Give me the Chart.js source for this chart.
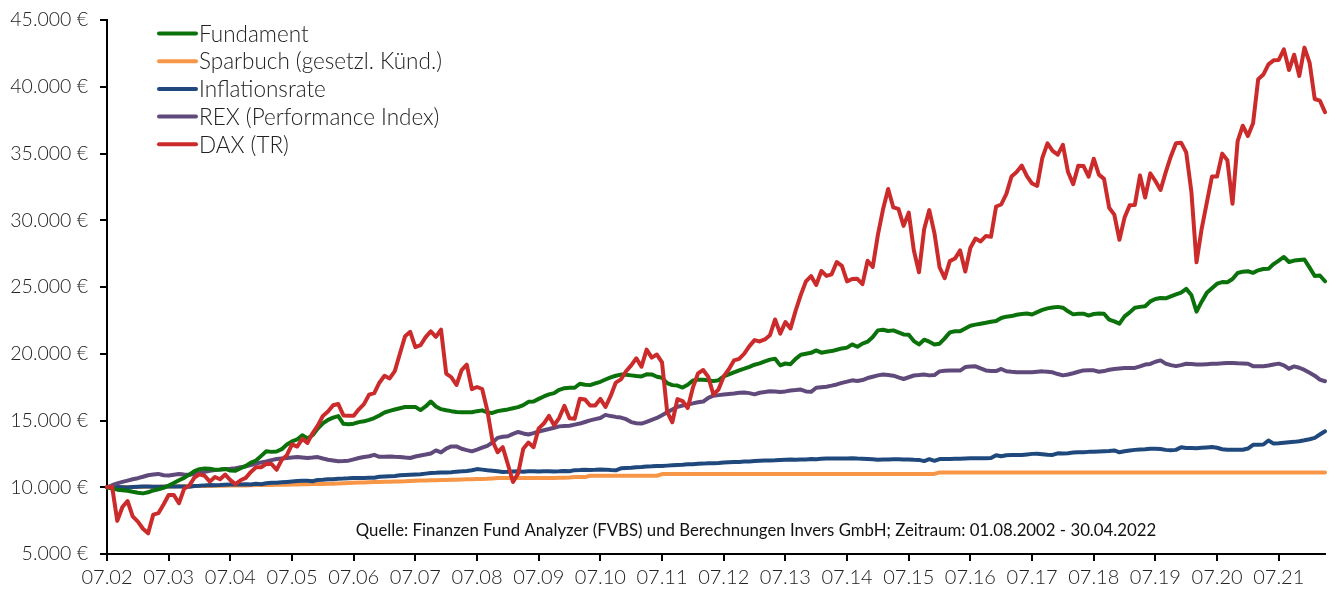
<!DOCTYPE html>
<html><head><meta charset="utf-8">
<script src="https://cdn.jsdelivr.net/npm/chart.js@4.4.0/dist/chart.umd.min.js"></script>
<style>html,body{margin:0;padding:0;background:#fff;} #wrap{position:relative;width:1333px;height:594px;}</style>
</head><body><div id="wrap"><canvas id="c" width="1333" height="594"></canvas></div>
<script>
// Monthly categories 07.02 ... 04.22
const labels = [];
for (let i = 0; i < 238; i++) {
  const mo = (6 + i) % 12 + 1, yr = 2 + Math.floor((6 + i) / 12);
  labels.push(String(mo).padStart(2, '0') + '.' + String(yr).padStart(2, '0'));
}
const tickLabels = ['07.02','07.03','07.04','07.05','07.06','07.07','07.08','07.09','07.10','07.11','07.12','07.13','07.14','07.15','07.16','07.17','07.18','07.19','07.20','07.21'];
const yTicks = [5000,10000,15000,20000,25000,30000,35000,40000,45000];

const fundament = [
10000,9900,9820,9780,9740,9660,9590,9540,9620,9760,9850,9950,
10130,10320,10520,10700,10950,11200,11350,11400,11380,11320,11330,11370,
11250,11230,11420,11600,11850,12000,12350,12700,12650,12680,12850,13200,
13430,13580,13900,13650,13900,14400,14780,15050,15220,15330,14750,14720,
14760,14880,14940,15050,15180,15380,15600,15720,15820,15920,16010,16020,
16020,15780,16050,16420,16050,15850,15770,15700,15640,15620,15620,15620,
15700,15760,15600,15570,15700,15770,15830,15920,16000,16150,16400,16420,
16620,16800,16960,17050,17300,17420,17450,17450,17750,17680,17650,17780,
17900,18070,18230,18350,18440,18420,18380,18330,18300,18460,18450,18280,
18200,17800,17650,17620,17470,17680,18000,18060,18060,18020,17950,18020,
18300,18450,18600,18750,18880,19020,19180,19280,19430,19560,19620,19130,
19270,19220,19620,19930,20000,20070,20250,20080,20150,20200,20300,20400,
20460,20700,20520,20760,20900,21250,21750,21800,21700,21750,21600,21450,
21430,20950,20700,21050,20900,20700,20750,21150,21600,21690,21690,21900,
22100,22180,22250,22320,22400,22450,22680,22780,22820,22920,22980,23010,
22940,23120,23280,23400,23460,23510,23450,23180,22950,22990,23000,22860,
22980,23010,23000,22560,22430,22260,22800,23100,23450,23510,23560,23920,
24100,24180,24150,24300,24450,24580,24860,24400,23150,23900,24560,24900,
25250,25370,25360,25600,26050,26150,26180,26060,26250,26350,26360,26720,
26980,27250,26870,26980,27020,27060,26450,25820,25860,25430];

const sparbuch = [
10000,10000,10000,10010,10010,10020,10020,10030,10030,10040,10040,10050,
10060,10060,10070,10070,10080,10090,10090,10100,10100,10110,10120,10120,
10130,10130,10140,10140,10150,10160,10160,10170,10170,10180,10180,10190,
10200,10210,10220,10230,10240,10250,10250,10260,10260,10280,10300,10320,
10340,10350,10360,10380,10390,10400,10410,10420,10430,10440,10450,10470,
10490,10500,10510,10520,10530,10540,10550,10560,10570,10580,10590,10600,
10610,10620,10630,10660,10690,10690,10690,10690,10690,10690,10690,10690,
10690,10690,10690,10700,10710,10720,10730,10760,10760,10760,10860,10860,
10860,10860,10860,10860,10860,10860,10860,10860,10860,10860,10860,10860,
10990,10990,10990,10990,10990,10990,10990,10990,10990,10990,10990,10990,
10990,10990,10990,10990,11000,11000,11000,11000,11000,11000,11000,11000,
11000,11000,11000,11000,11000,11000,11000,11000,11000,11000,11000,11000,
11000,11000,11000,11000,11000,11000,11000,11000,11000,11000,11000,11000,
11000,11000,11000,11000,11000,11000,11110,11110,11110,11110,11110,11110,
11110,11110,11110,11110,11110,11110,11110,11110,11110,11110,11110,11110,
11110,11110,11110,11110,11110,11110,11110,11110,11110,11110,11110,11110,
11110,11110,11110,11110,11110,11110,11110,11110,11110,11110,11110,11110,
11110,11110,11110,11110,11110,11110,11110,11110,11110,11110,11110,11110,
11110,11110,11110,11110,11110,11110,11110,11110,11110,11110,11110,11110,
11110,11110,11110,11110,11110,11110,11110,11110,11110,11110];

const inflation = [
10000,10000,10010,10000,9990,10020,10040,10060,10060,10040,10030,10040,
10060,10060,10050,10050,10040,10090,10110,10140,10160,10150,10160,10190,
10200,10210,10200,10220,10200,10260,10230,10300,10330,10340,10370,10400,
10430,10460,10490,10480,10450,10550,10560,10600,10600,10640,10650,10670,
10700,10700,10690,10720,10710,10780,10810,10830,10850,10900,10920,10940,
10960,10980,11020,11060,11080,11110,11100,11130,11170,11190,11220,11270,
11360,11320,11270,11230,11190,11150,11160,11180,11190,11170,11190,11200,
11180,11190,11200,11180,11190,11220,11200,11280,11290,11310,11300,11310,
11330,11320,11290,11270,11420,11440,11460,11500,11520,11560,11570,11590,
11600,11620,11640,11660,11680,11720,11730,11760,11770,11800,11790,11810,
11860,11880,11890,11900,11920,11930,11960,11990,12010,12000,12020,12050,
12060,12070,12060,12080,12080,12110,12100,12130,12150,12160,12150,12150,
12160,12170,12150,12140,12120,12090,12060,12070,12080,12090,12090,12080,
12080,12060,12050,11960,12100,11980,12110,12110,12120,12130,12130,12150,
12170,12170,12180,12180,12190,12400,12320,12400,12410,12410,12420,12460,
12500,12510,12480,12440,12420,12540,12520,12550,12600,12620,12630,12650,
12660,12680,12700,12720,12760,12620,12700,12760,12800,12830,12850,12880,
12890,12860,12800,12770,12800,13000,12940,12940,12920,12950,12980,13010,
12960,12850,12810,12810,12800,12810,12900,13180,13190,13200,13500,13270,
13300,13340,13370,13400,13450,13520,13600,13700,13950,14190];

const rex = [
10000,10150,10290,10400,10500,10600,10680,10790,10900,10960,11000,10900,
10880,10940,10990,10950,10940,11000,11060,11150,11240,11290,11320,11360,
11390,11430,11500,11560,11660,11770,11860,11940,12030,12110,12150,12190,
12230,12260,12230,12190,12220,12260,12150,12060,12000,11940,11960,11990,
12090,12190,12270,12320,12430,12280,12290,12310,12280,12260,12220,12190,
12300,12380,12450,12530,12760,12610,12900,13060,13060,12880,12780,12690,
12820,12960,13100,13350,13700,13780,13820,14000,14140,14030,13950,14050,
14180,14270,14360,14460,14560,14590,14610,14690,14770,14890,15010,15100,
15190,15420,15330,15270,15220,15100,14880,14800,14770,14900,15050,15190,
15400,15620,15830,16020,16120,16190,16280,16370,16420,16700,16860,16900,
16950,16990,17030,17080,17100,17050,16960,17080,17130,17190,17170,17130,
17180,17250,17280,17320,17180,17150,17450,17490,17530,17610,17700,17820,
17910,18010,17960,18030,18180,18280,18380,18440,18400,18360,18230,18110,
18240,18370,18400,18440,18380,18400,18680,18720,18740,18740,18740,19000,
19040,19060,18900,18750,18700,18700,18860,18690,18650,18620,18610,18610,
18620,18660,18680,18650,18610,18480,18380,18450,18540,18650,18750,18760,
18760,18650,18700,18800,18850,18900,18930,18940,18940,19050,19190,19240,
19400,19500,19260,19150,19070,19150,19250,19240,19200,19190,19220,19250,
19260,19280,19310,19300,19280,19270,19250,19070,19060,19060,19120,19200,
19260,19130,18880,19050,18950,18790,18580,18360,18060,17940];

const dax = [
10000,10030,7480,8520,8970,7820,7430,6890,6550,7950,8060,8710,
9420,9420,8800,9880,10120,10720,10970,10860,10420,10770,10600,10950,
10530,10230,10520,10700,11150,11500,11500,11760,11750,11310,12050,12400,
13210,13050,13630,13320,14040,14620,15340,15670,16140,16240,15380,15360,
15360,15840,16230,16940,17050,17830,18350,18150,18700,20020,21310,21640,
20500,20640,21250,21680,21270,21800,18520,18240,17660,18780,19180,17350,
17510,17360,15760,13480,12620,13000,11720,10390,11040,12890,13350,13000,
14410,14770,15340,14640,15200,16100,15160,15130,16630,16580,16120,16120,
16620,16010,16840,17840,18080,18690,19130,19660,19030,20310,19710,19940,
19350,15640,14870,16600,16460,15940,17460,18530,18780,18270,16930,17340,
18300,18840,19500,19620,20010,20570,21020,20920,21070,21390,22570,21510,
22370,21900,23230,24410,25420,25820,25150,26200,25830,25950,26870,26580,
25420,25600,25610,25210,26970,26500,28900,30820,32340,30960,30850,29580,
30570,27730,26110,29320,30760,29040,26480,25660,26940,27130,27740,26160,
27940,28630,28410,28820,28760,31030,31180,31980,33280,33620,34100,33310,
32750,32580,34670,35760,35200,34910,35650,33610,32700,34090,34070,33260,
34610,33420,33100,30940,30420,28540,30200,31120,31150,33360,31700,33510,
32940,32270,33590,34780,35770,35810,35080,32140,26850,29360,31320,33270,
33280,34990,34490,31230,35920,37080,36310,37260,40560,40910,41680,41980,
42010,42800,41250,42400,40810,42930,41810,39080,38960,38100];

const seriesNames = ['Fundament','Sparbuch (gesetzl. Künd.)','Inflationsrate','REX (Performance Index)','DAX (TR)'];
const seriesColors = ['#0b720b','#f79646','#1f497d','#604a7b','#cc2b2b'];
const sourceText = 'Quelle: Finanzen Fund Analyzer (FVBS) und Berechnungen Invers GmbH; Zeitraum: 01.08.2002 - 30.04.2022';

const FONT = 'Lato, "Open Sans", sans-serif';
function fmt(v){ return String(v).replace(/\B(?=(\d{3})+(?!\d))/g,'.') + ' €'; }

const values = [fundament, sparbuch, inflation, rex, dax];
const drawOrder = [2, 5, 4, 3, 1];
const datasets = values.map((d, i) => ({
  label: seriesNames[i], data: d, borderColor: seriesColors[i], backgroundColor: seriesColors[i],
  borderWidth: 4, pointRadius: 0, tension: 0, fill: false, order: drawOrder[i],
  borderJoinStyle: 'round', borderCapStyle: 'round'
}));

const overlay = {
  id: 'overlay',
  afterDraw(chart) {
    const ctx = chart.ctx;
    ctx.save();
    ctx.font = '300 22.5px ' + FONT;
    ctx.textBaseline = 'middle';
    ctx.textAlign = 'left';
    chart.data.datasets.forEach((d, i) => {
      const y = 33.5 + i * 27.7;
      ctx.strokeStyle = d.borderColor; ctx.lineWidth = 4; ctx.lineCap = 'round';
      ctx.beginPath(); ctx.moveTo(159, y); ctx.lineTo(196, y); ctx.stroke();
      ctx.fillStyle = '#222';
      ctx.fillText(d.label, 199, y + 1);
    });
    ctx.font = '16.8px ' + FONT;
    ctx.textAlign = 'center';
    ctx.fillStyle = '#111';
    ctx.fillText(sourceText, 756, 531);
    ctx.restore();
  }
};

new Chart(document.getElementById('c'), {
  type: 'line',
  data: { labels: labels, datasets: datasets },
  options: {
    responsive: false, animation: false, devicePixelRatio: 1,
    layout: { padding: { top: 20, right: 8, left: 0, bottom: 0 } },
    plugins: { legend: { display: false }, tooltip: { enabled: false } },
    scales: {
      x: {
        type: 'category', offset: false,
        ticks: { autoSkip: false, maxRotation: 0, minRotation: 0, color: '#222', padding: 5,
                 font: { family: FONT, size: 20, weight: '300' } },
        grid: { drawOnChartArea: false, drawTicks: true, tickLength: 7, color: '#000', lineWidth: 2 },
        border: { display: true, color: '#000', width: 2 },
        afterBuildTicks: s => { s.ticks = s.ticks.filter(t => tickLabels.includes(labels[t.value])); },
        afterFit: s => { s.height = 40; s.paddingLeft = 0; s.paddingRight = 0; }
      },
      y: {
        min: 5000, max: 45000,
        afterBuildTicks: s => { s.ticks = yTicks.map(v => ({ value: v })); },
        ticks: { color: '#222', padding: 12, font: { family: FONT, size: 19.5, weight: '300' }, callback: v => fmt(v) },
        grid: { drawOnChartArea: false, drawTicks: true, tickLength: 7, color: '#000', lineWidth: 2 },
        border: { display: true, color: '#000', width: 2 },
        afterFit: s => { s.width = 107; s.paddingTop = 0; s.paddingBottom = 0; }
      }
    }
  },
  plugins: [overlay]
});
</script></body></html>
